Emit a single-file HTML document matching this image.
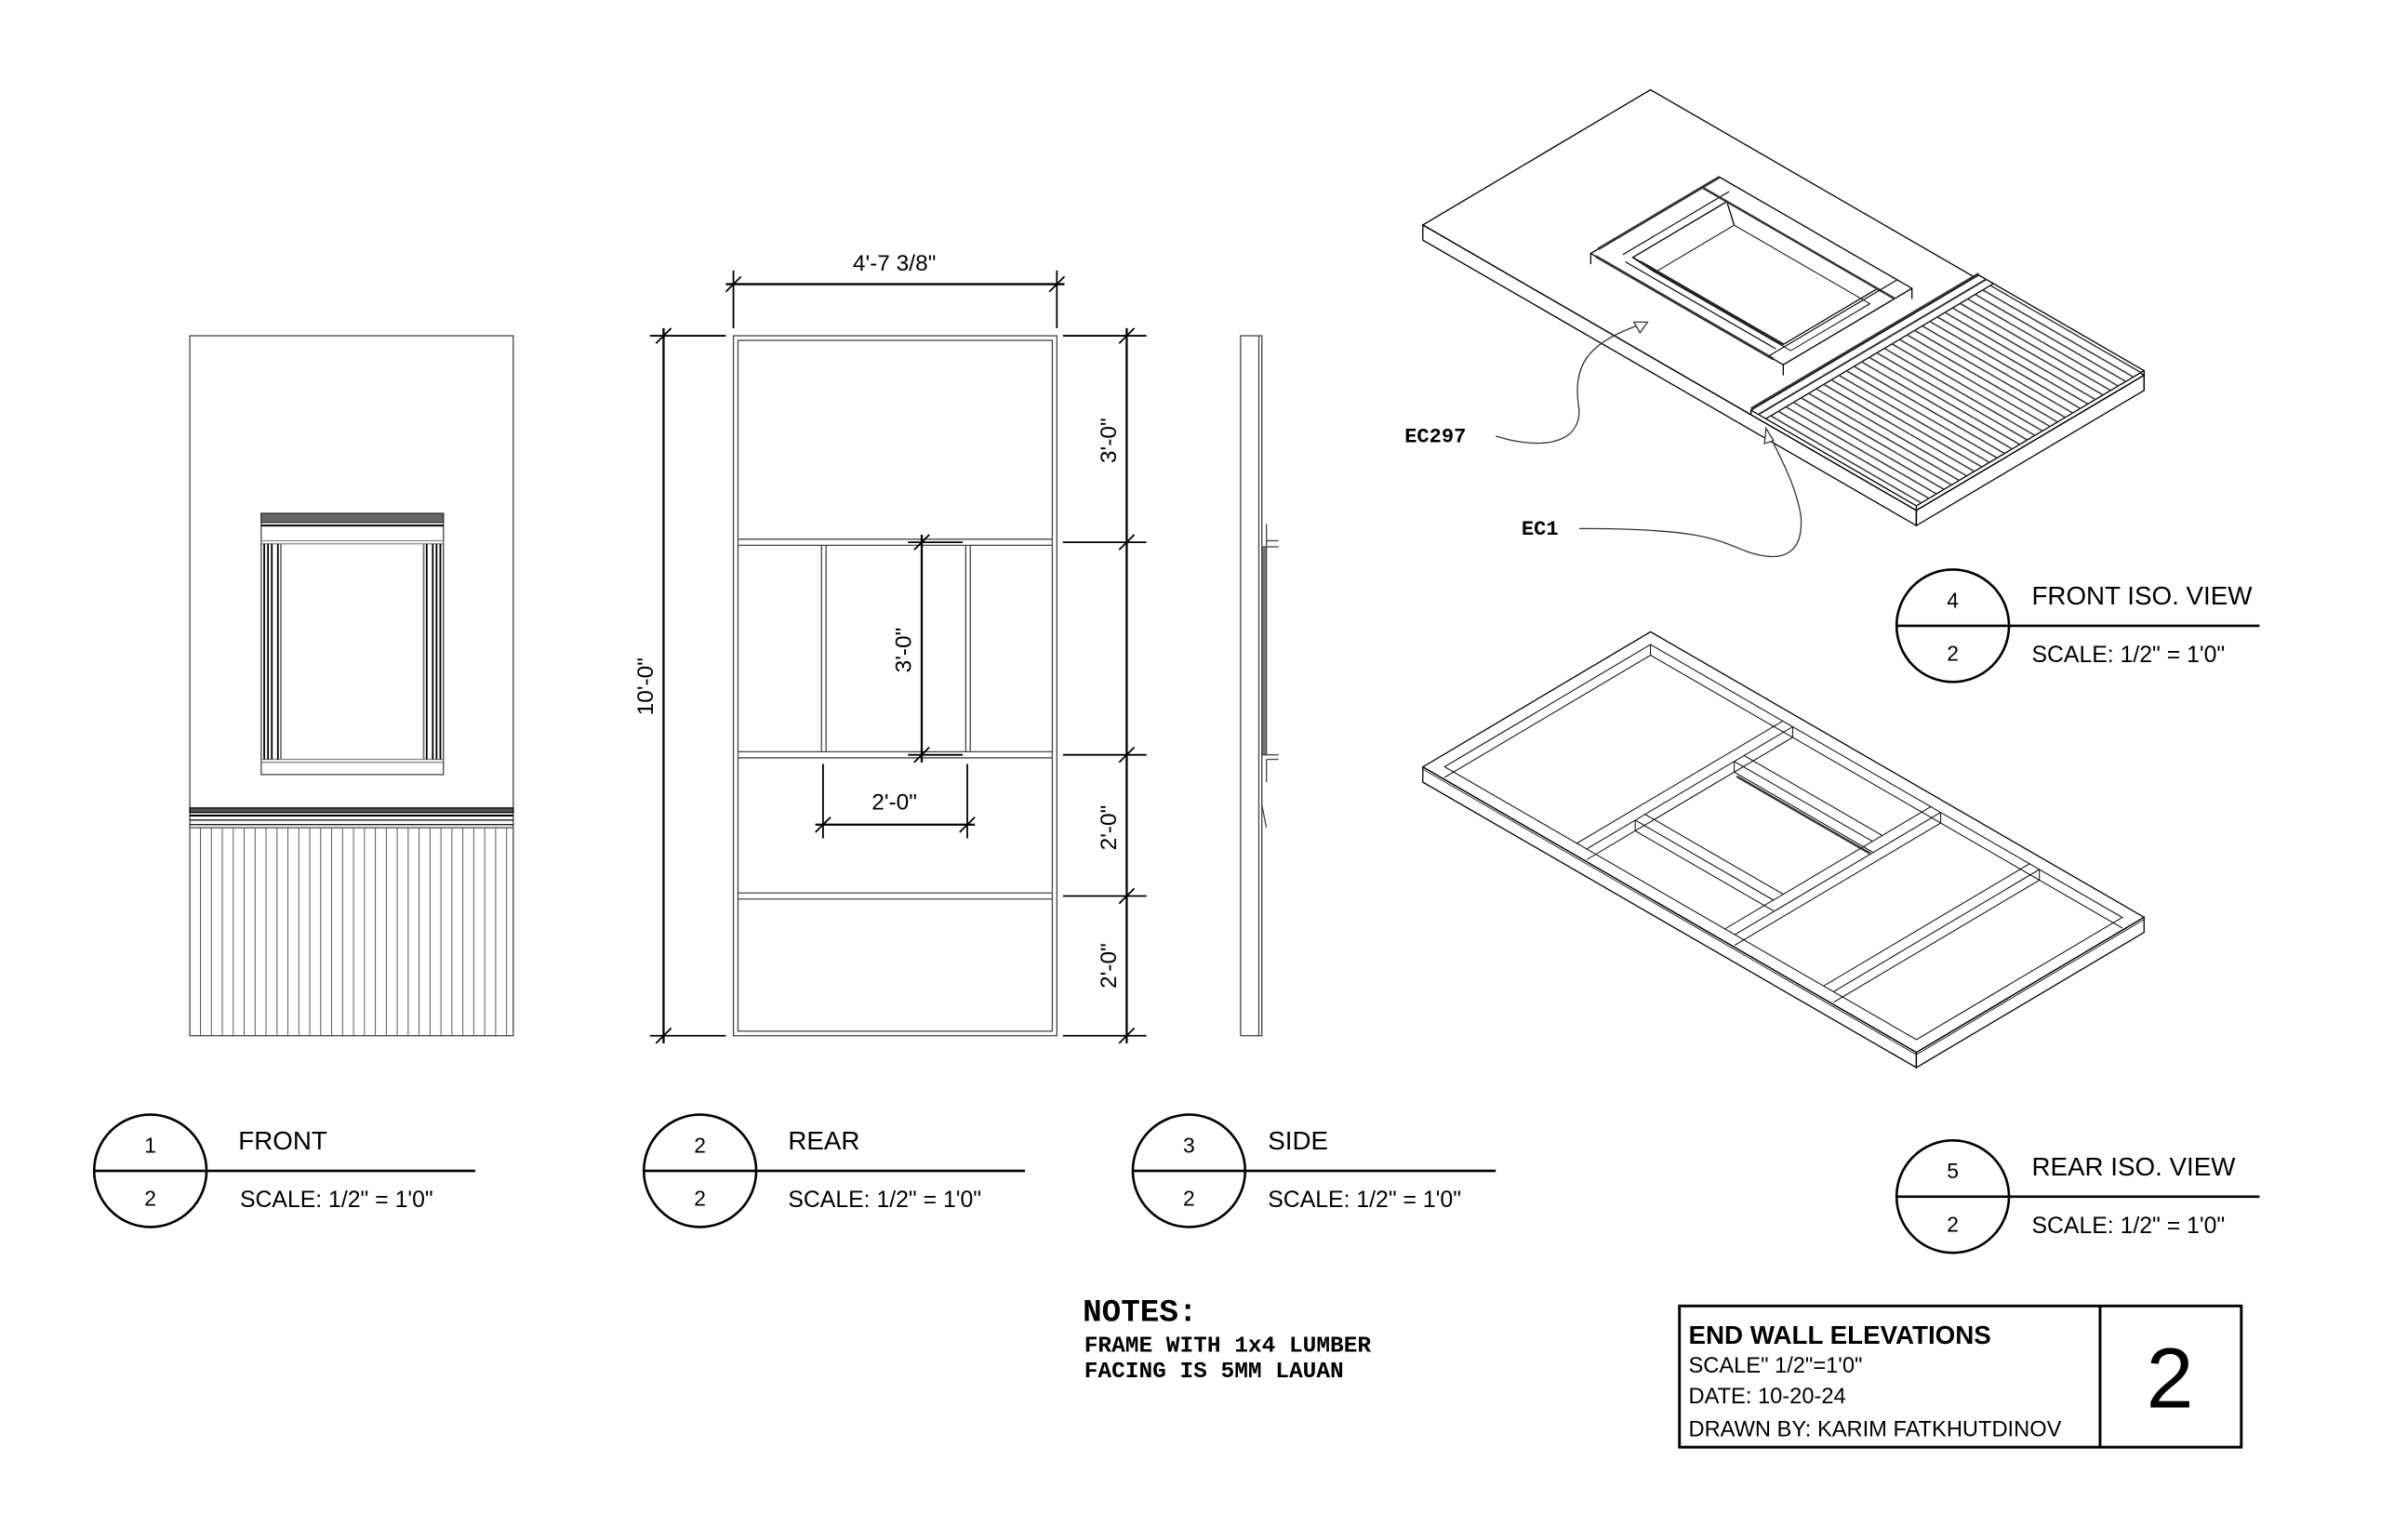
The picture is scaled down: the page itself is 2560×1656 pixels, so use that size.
<!DOCTYPE html>
<html><head><meta charset="utf-8"><style>
html,body{margin:0;padding:0;background:#fff}
svg{display:block}
text{font-family:"Liberation Sans",Arial,sans-serif;fill:#000}
.m{font-family:"Liberation Mono","Courier New",monospace;font-weight:bold}
</style></head><body>
<svg id="s" width="2560" height="1656" viewBox="0 0 1568 1014" xmlns="http://www.w3.org/2000/svg" fill="none" stroke="#000" stroke-width="0.8">
<g id="front">
<rect x="125" y="221" width="213" height="461" stroke="#444"/>
<rect x="172" y="338" width="120" height="172" stroke="#444"/>
<rect x="172" y="338" width="120" height="6" fill="#666" stroke="#333"/>
<line x1="172" y1="346" x2="292" y2="346" stroke-width="1.2"/>
<line x1="172" y1="356" x2="292" y2="356" stroke="#888"/>
<line x1="172" y1="358" x2="292" y2="358" stroke="#888"/>
<line x1="172" y1="500" x2="292" y2="500" stroke="#888"/>
<line x1="172" y1="502" x2="292" y2="502" stroke="#888"/>
<g stroke-width="1.1">
<line x1="174" y1="358" x2="174" y2="500"/><line x1="176.5" y1="358" x2="176.5" y2="500"/><line x1="179" y1="358" x2="179" y2="500"/>
<line x1="183" y1="358" x2="183" y2="500"/><line x1="185" y1="358" x2="185" y2="500" stroke="#777"/>
<line x1="290" y1="358" x2="290" y2="500"/><line x1="287.5" y1="358" x2="287.5" y2="500"/><line x1="285" y1="358" x2="285" y2="500"/>
<line x1="281" y1="358" x2="281" y2="500"/><line x1="279" y1="358" x2="279" y2="500" stroke="#777"/>
</g>
<rect x="125" y="532" width="213" height="3" fill="#555"/>
<line x1="125" y1="537" x2="338" y2="537" stroke-width="1.2"/>
<line x1="125" y1="540" x2="338" y2="540"/>
<line x1="125" y1="543" x2="338" y2="543"/>
<line x1="125" y1="545" x2="338" y2="545" stroke="#555"/>
<g id="fgroove" stroke="#555" stroke-width="0.6"></g>
</g>
<g id="rear" stroke="#444">
<rect x="483" y="221" width="213" height="461"/>
<rect x="486" y="224" width="207" height="455"/>
<line x1="486" y1="355" x2="693" y2="355"/><line x1="486" y1="359" x2="693" y2="359"/>
<line x1="486" y1="495" x2="693" y2="495"/><line x1="486" y1="499" x2="693" y2="499"/>
<line x1="486" y1="588" x2="693" y2="588"/><line x1="486" y1="592" x2="693" y2="592"/>
<line x1="541" y1="359" x2="541" y2="495"/><line x1="544" y1="359" x2="544" y2="495"/>
<line x1="636" y1="359" x2="636" y2="495"/><line x1="639" y1="359" x2="639" y2="495"/>
</g>
<g id="dims" stroke="#000" stroke-width="1.1">
<line x1="483" y1="178" x2="483" y2="216"/><line x1="696" y1="178" x2="696" y2="216"/>
<line x1="478" y1="187" x2="701" y2="187" stroke-width="1.4"/>
<line x1="478" y1="192" x2="488" y2="182"/><line x1="691" y1="192" x2="701" y2="182"/>
<line x1="428" y1="221" x2="478" y2="221"/><line x1="428" y1="682" x2="478" y2="682"/>
<line x1="437" y1="216" x2="437" y2="687" stroke-width="1.4"/>
<line x1="432" y1="226" x2="442" y2="216"/><line x1="432" y1="687" x2="442" y2="677"/>
<line x1="700" y1="221" x2="755" y2="221"/><line x1="700" y1="357" x2="755" y2="357"/>
<line x1="700" y1="497" x2="755" y2="497"/><line x1="700" y1="590" x2="755" y2="590"/>
<line x1="700" y1="682" x2="755" y2="682"/>
<line x1="742" y1="216" x2="742" y2="687" stroke-width="1.4"/>
<line x1="737" y1="226" x2="747" y2="216"/><line x1="737" y1="362" x2="747" y2="352"/>
<line x1="737" y1="502" x2="747" y2="492"/><line x1="737" y1="595" x2="747" y2="585"/>
<line x1="737" y1="687" x2="747" y2="677"/>
<line x1="598" y1="357" x2="634" y2="357"/><line x1="598" y1="497" x2="634" y2="497"/>
<line x1="607" y1="352" x2="607" y2="502" stroke-width="1.4"/>
<line x1="602" y1="362" x2="612" y2="352"/><line x1="602" y1="502" x2="612" y2="492"/>
<line x1="542" y1="503" x2="542" y2="552"/><line x1="637" y1="503" x2="637" y2="552"/>
<line x1="537" y1="543" x2="642" y2="543" stroke-width="1.4"/>
<line x1="537" y1="548" x2="547" y2="538"/><line x1="632" y1="548" x2="642" y2="538"/>
</g>
<g stroke="none" font-size="15">
<text x="589" y="178" text-anchor="middle">4'-7 3/8"</text>
<text transform="translate(430,452) rotate(-90)" text-anchor="middle">10'-0"</text>
<text transform="translate(735,290) rotate(-90)" text-anchor="middle">3'-0"</text>
<text transform="translate(735,545) rotate(-90)" text-anchor="middle">2'-0"</text>
<text transform="translate(735,636) rotate(-90)" text-anchor="middle">2'-0"</text>
<text transform="translate(600,428) rotate(-90)" text-anchor="middle">3'-0"</text>
<text x="589" y="533" text-anchor="middle">2'-0"</text>
</g>
<g id="side" stroke="#444">
<rect x="817" y="221" width="14" height="461"/>
<line x1="829" y1="221" x2="829" y2="682"/>
<rect x="831" y="360" width="3" height="137" fill="#777"/>
<line x1="834" y1="345" x2="834" y2="360"/><line x1="834" y1="356" x2="842" y2="356"/><line x1="834" y1="360" x2="842" y2="360"/>
<line x1="834" y1="497" x2="842" y2="497"/><line x1="834" y1="500" x2="842" y2="500"/><line x1="834" y1="500" x2="834" y2="515"/>
<line x1="831" y1="530" x2="834" y2="545"/>
</g>
<g id="iso1"></g>
<g id="iso2"></g>
<g id="leaders" stroke="#333" stroke-width="0.8">
<path d="M985 287 C1010 295 1040 295 1040 270 C1035 240 1045 225 1085 212"/>
<path d="M1085 212 l-9 0 l4 7 z" fill="#fff"/>
<path d="M1040 348 C1120 348 1130 355 1150 363 C1170 370 1188 368 1186 340 C1183 320 1172 300 1163 282"/>
<path d="M1163 282 l-1 10 l6 -2 z" fill="#fff"/>
</g>
<g stroke="none" class="m" font-size="13.5">
<text x="925" y="291" class="m">EC297</text>
<text x="1002" y="352" class="m">EC1</text>
</g>
<g id="titles" stroke="#000" stroke-width="1.6">
<circle cx="99" cy="771" r="37"/><line x1="62" y1="771" x2="313" y2="771"/>
<circle cx="461" cy="771" r="37"/><line x1="424" y1="771" x2="675" y2="771"/>
<circle cx="783" cy="771" r="37"/><line x1="746" y1="771" x2="985" y2="771"/>
<circle cx="1286" cy="412" r="37"/><line x1="1249" y1="412" x2="1488" y2="412"/>
<circle cx="1286" cy="788" r="37"/><line x1="1249" y1="788" x2="1488" y2="788"/>
</g>
<g stroke="none" font-size="14">
<text x="99" y="759" text-anchor="middle">1</text><text x="99" y="794" text-anchor="middle">2</text>
<text x="461" y="759" text-anchor="middle">2</text><text x="461" y="794" text-anchor="middle">2</text>
<text x="783" y="759" text-anchor="middle">3</text><text x="783" y="794" text-anchor="middle">2</text>
<text x="1286" y="400" text-anchor="middle">4</text><text x="1286" y="435" text-anchor="middle">2</text>
<text x="1286" y="776" text-anchor="middle">5</text><text x="1286" y="811" text-anchor="middle">2</text>
<g font-size="17">
<text x="157" y="757">FRONT</text><text x="519" y="757">REAR</text><text x="835" y="757">SIDE</text>
<text x="1338" y="398">FRONT ISO. VIEW</text><text x="1338" y="774">REAR ISO. VIEW</text>
</g>
<g font-size="15.2">
<text x="158" y="795">SCALE: 1/2" = 1'0"</text>
<text x="519" y="795">SCALE: 1/2" = 1'0"</text>
<text x="835" y="795">SCALE: 1/2" = 1'0"</text>
<text x="1338" y="436">SCALE: 1/2" = 1'0"</text>
<text x="1338" y="812">SCALE: 1/2" = 1'0"</text>
</g>
</g>
<g stroke="none">
<text x="713" y="870" class="m" font-size="21">NOTES:</text>
<text x="714" y="890" class="m" font-size="15">FRAME WITH 1x4 LUMBER</text>
<text x="714" y="907" class="m" font-size="15">FACING IS 5MM LAUAN</text>
</g>
<g stroke="#000" stroke-width="1.8">
<rect x="1106" y="860" width="370" height="93"/>
<line x1="1383" y1="860" x2="1383" y2="953"/>
</g>
<g stroke="none">
<text x="1112" y="885" font-size="17" font-weight="bold">END WALL ELEVATIONS</text>
<text x="1112" y="904" font-size="14.5">SCALE" 1/2"=1'0"</text>
<text x="1112" y="924" font-size="14.5">DATE: 10-20-24</text>
<text x="1112" y="946" font-size="14.5">DRAWN BY: KARIM FATKHUTDINOV</text>
<text x="1429" y="927" font-size="56" text-anchor="middle">2</text>
</g>
</svg>
<script>
var NS="http://www.w3.org/2000/svg";
function ln(g,a,b,w,c){var l=document.createElementNS(NS,"line");l.setAttribute("x1",a[0]);l.setAttribute("y1",a[1]);l.setAttribute("x2",b[0]);l.setAttribute("y2",b[1]);if(w)l.setAttribute("stroke-width",w);if(c)l.setAttribute("stroke",c);g.appendChild(l);}
function poly(g,pts,w,fill){var p=document.createElementNS(NS,"polygon");p.setAttribute("points",pts.map(function(q){return q[0]+","+q[1]}).join(" "));if(w)p.setAttribute("stroke-width",w);if(fill)p.setAttribute("fill",fill);g.appendChild(p);}
var fg=document.getElementById("fgroove");
for(var x=132;x<338;x+=7.2)ln(fg,[x,545],[x,682]);
function mk(ox,oy){return function(u,v,h){h=h||0;return[ox+32.5*u+32.6*v,oy+18.8*u-19.35*v-h];};}
var g1=document.getElementById("iso1"),P=mk(937,148);
poly(g1,[P(0,0),P(10,0),P(10,4.6),P(0,4.6)],0.8);
poly(g1,[P(0,0),P(10,0),P(10,0,-10),P(0,0,-10)],0.8);
poly(g1,[P(10,0),P(10,4.6),P(10,4.6,-10),P(10,0,-10)],0.8);
var H=7;
poly(g1,[P(2.4,1.0,H),P(6.3,1.0,H),P(6.3,3.6,H),P(2.4,3.6,H)],0.8,"#fff");
ln(g1,P(2.4,1.0),P(2.4,1.0,H));ln(g1,P(6.3,1.0),P(6.3,1.0,H));ln(g1,P(6.3,3.6),P(6.3,3.6,H));
poly(g1,[P(2.9,1.35,H),P(5.95,1.35,H),P(5.95,3.25,H),P(2.9,3.25,H)],0.8);
poly(g1,[P(3.2,1.5,0),P(5.95,1.5,0),P(5.95,3.1,0),P(3.2,3.1,0)],0.6);
ln(g1,P(2.9,1.35,H),P(3.2,1.5,0));ln(g1,P(2.9,3.25,H),P(3.2,3.1,0));
ln(g1,P(2.4,1.15,H),P(2.4,3.6,H),1.8,"#333");ln(g1,P(2.5,1.0,H),P(6.1,1.0,H),1.8,"#333");
ln(g1,P(2.75,1.3,H),P(2.75,3.45,H),0.7);ln(g1,P(2.9,1.2,H),P(5.95,1.2,H),0.7);
ln(g1,P(3.05,1.35,H),P(5.95,1.35,H),1.6,"#222");ln(g1,P(2.4,3.25,H),P(6.3,3.25,H),1.5,"#333");
ln(g1,P(6.0,1.0,H),P(6.0,3.6,H),0.7);
var G=3;
poly(g1,[P(6.65,0,G),P(10,0,G),P(10,4.6,G),P(6.65,4.6,G)],0.8,"#fff");
ln(g1,P(10,0,G),P(10,0,-10));ln(g1,P(10,4.6,G),P(10,4.6,-10));
ln(g1,P(6.65,0,G),P(6.65,0,0));
ln(g1,P(6.65,0,G+1),P(6.65,4.6,G+1),1.5,"#333");ln(g1,P(6.8,0,G),P(6.8,4.6,G),1.2,"#333");ln(g1,P(6.95,0,G),P(6.95,4.6,G),0.8);
for(var v=0.1;v<4.6;v+=0.153)ln(g1,P(6.95,v,G),P(10,v,G),0.9,"#333");
var g2=document.getElementById("iso2"),Q=mk(937,512);
var D=7,t=0.22;
poly(g2,[Q(0,0,D),Q(10,0,D),Q(10,4.6,D),Q(0,4.6,D)],0.8);
poly(g2,[Q(0,0,D),Q(10,0,D),Q(10,0,-3),Q(0,0,-3)],0.8);
poly(g2,[Q(10,0,D),Q(10,4.6,D),Q(10,4.6,-3),Q(10,0,-3)],0.8);
ln(g2,Q(0,0,D-1.5),Q(10,0,D-1.5),0.5);ln(g2,Q(10,0,D-1.5),Q(10,4.6,D-1.5),0.5);
poly(g2,[Q(t,t,D),Q(10-t,t,D),Q(10-t,4.6-t,D),Q(t,4.6-t,D)],0.6);
ln(g2,Q(t,4.6-t,D),Q(t,4.6-t,0),0.6);ln(g2,Q(t,4.6-t,0),Q(10-t,4.6-t,0),0.6);ln(g2,Q(t,4.6-t,0),Q(t,t,0),0.6);
[3,6,8].forEach(function(u){
 ln(g2,Q(u-0.1,t,D),Q(u-0.1,4.6-t,D),0.6);ln(g2,Q(u+0.1,t,D),Q(u+0.1,4.6-t,D),0.6);
 ln(g2,Q(u+0.1,4.6-t,D),Q(u+0.1,4.6-t,0),0.6);ln(g2,Q(u+0.1,4.6-t,0),Q(u+0.1,t,0),0.6);
});
[1.3,3.3].forEach(function(v){
 ln(g2,Q(3.1,v-0.1,D),Q(5.9,v-0.1,D),0.6);ln(g2,Q(3.1,v+0.1,D),Q(5.9,v+0.1,D),0.6);
 ln(g2,Q(3.1,v-0.1,D),Q(3.1,v-0.1,0),0.6);ln(g2,Q(3.1,v-0.1,0),Q(5.9,v-0.1,0),0.6);
});
ln(g2,Q(3.2,3.15,0),Q(5.9,3.15,0),1.5,"#333");
</script>
</body></html>
